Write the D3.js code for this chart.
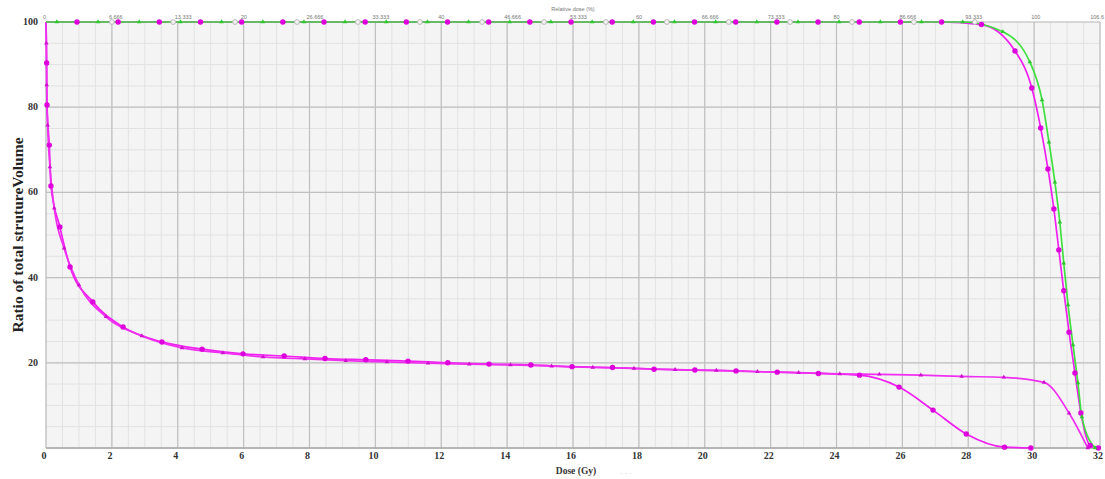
<!DOCTYPE html>
<head>
  <meta charset="utf-8">
  <script src="https://d3js.org/d3.v7.min.js"></script>
  <style>
    body { margin:0; background-color: white; }
    text { font-family: 'Liberation Serif', 'DejaVu Serif', serif; }
    .tick-label { font-size: 10px; font-weight: bold; fill: #333; }
    .top-label { font-family: 'Liberation Sans', sans-serif; font-size: 5.5px; fill: #777; }
  </style>
</head>
<body>
  <svg id="chart" width="1105" height="479"></svg>
  <script>
  // dose ticks (Gy) and relative dose labels (%)
  var doseTicks = [0, 2, 4, 6, 8, 10, 12, 14, 16, 18, 20, 22, 24, 26, 28, 30, 32];
  var relLabels = ["0", "6.666", "13.333", "20", "26.666", "33.333", "40", "46.666", "53.333",
                   "60", "66.666", "73.333", "80", "86.666", "93.333", "100", "106.6"];
  var volTicks = [20, 40, 60, 80, 100];

  // green curve
  var greenDose = [0, 0.33, 1.58, 2.83, 4.08, 5.33, 6.58, 7.83, 9.08, 10.33, 11.58, 12.83, 14.08, 15.33,
                   16.58, 17.83, 19.08, 20.33, 21.58, 22.83, 24.08, 25.33, 26.58, 27.83, 29.05, 29.87,
                   30.24, 30.45, 30.63, 30.78, 30.9, 31.03, 31.18, 31.33, 31.45, 31.85];
  var greenVol  = [100, 100, 100, 100, 100, 100, 100, 100, 100, 100, 100, 100, 100, 100,
                   100, 100, 100, 100, 100, 100, 100, 100, 100, 100, 97.7, 90.6,
                   81.7, 71.8, 62.4, 53, 43.4, 33.6, 24.2, 15.3, 7.3, 0];

  // magenta curve, big markers, high dose
  var ptvDose = [0, 0.94, 2.19, 3.44, 4.69, 5.94, 7.19, 8.44, 9.69, 10.94, 12.19, 13.44, 14.69, 15.94,
                 17.19, 18.44, 19.69, 20.94, 22.19, 23.44, 24.69, 25.94, 27.19, 28.4, 29.42, 29.93,
                 30.2, 30.42, 30.6, 30.75, 30.9, 31.06, 31.24, 31.42, 31.7, 31.95];
  var ptvVol  = [100, 100, 100, 100, 100, 100, 100, 100, 100, 100, 100, 100, 100, 100,
                 100, 100, 100, 100, 100, 100, 100, 100, 100, 99.4, 93.2, 84.5,
                 75.1, 65.5, 56.1, 46.5, 36.9, 27.2, 17.6, 8.2, 0.6, 0];

  // magenta curve, big markers, low dose
  var organADose = [0, 0.02, 0.03, 0.1, 0.15, 0.42, 0.73, 1.42, 2.34, 3.52, 4.74, 5.98, 7.23, 8.47,
                    9.71, 10.99, 12.2, 13.45, 14.72, 15.97, 17.2, 18.46, 19.7, 20.95, 22.2, 23.45,
                    24.7, 25.9, 26.93, 27.94, 29.1, 29.9];
  var organAVol  = [100, 90.4, 80.5, 71.1, 61.5, 51.9, 42.5, 34.3, 28.4, 24.9, 23.2, 22.1, 21.6, 21,
                    20.7, 20.4, 20, 19.7, 19.5, 19.1, 18.9, 18.5, 18.3, 18.1, 17.8, 17.5,
                    17.1, 14.3, 8.9, 3.3, 0.2, 0];

  // magenta curve, small markers
  var organBDose = [0, 0.01, 0.02, 0.05, 0.12, 0.25, 0.55, 1.0, 1.82, 2.91, 4.13, 5.37, 6.59, 7.86,
                    9.1, 10.35, 11.6, 12.85, 14.1, 15.35, 16.6, 17.85, 19.1, 20.35, 21.6, 22.85,
                    24.1, 25.3, 26.56, 27.8, 29.08, 30.3, 31.06, 31.63];
  var organBVol  = [100, 95, 85.2, 75.8, 66, 56.3, 46.9, 38.3, 30.8, 26.3, 23.5, 22.3, 21.4, 20.9,
                    20.5, 20.2, 19.9, 19.7, 19.5, 19.2, 18.9, 18.7, 18.4, 18.2, 17.9, 17.7,
                    17.4, 17.3, 17.1, 16.8, 16.6, 15.4, 8.2, 0];

  // gray curve, hidden under the others
  var grayDose = [0, 2.0, 3.86, 5.74, 7.62, 9.47, 11.35, 13.24, 15.12, 17.0, 18.85, 20.73, 22.59, 24.47, 26.35, 28.2];
  var grayVol  = [100, 100, 100, 100, 100, 100, 100, 100, 100, 100, 100, 100, 100, 100, 100, 100];

  var svg = d3.select("#chart");
  var x = d3.scaleLinear().domain([0, 32]).range([46, 1100]);
  var y = d3.scaleLinear().domain([0, 100]).range([448, 22]);

  function pts(ds, vs) { return ds.map(function(d, i) { return [d, vs[i]]; }); }

  // plot background
  svg.append("rect")
      .attr("x", x(0)).attr("y", y(100))
      .attr("width", x(32) - x(0)).attr("height", y(0) - y(100))
      .style("fill", "#f4f4f4");

  // minor grid
  var g = svg.append("g");
  g.selectAll(".vminor").data(d3.range(0, 32.01, 0.5)).enter().append("line")
      .attr("x1", function(d) { return x(d); }).attr("x2", function(d) { return x(d); })
      .attr("y1", y(0)).attr("y2", y(100))
      .style("stroke", "#e2e2e2").style("stroke-width", 1);
  g.selectAll(".hminor").data(d3.range(0, 100.1, 5)).enter().append("line")
      .attr("x1", x(0)).attr("x2", x(32))
      .attr("y1", function(d) { return y(d); }).attr("y2", function(d) { return y(d); })
      .style("stroke", "#e2e2e2").style("stroke-width", 1);
  // major grid
  g.selectAll(".vmajor").data(doseTicks).enter().append("line")
      .attr("x1", function(d) { return x(d); }).attr("x2", function(d) { return x(d); })
      .attr("y1", y(0)).attr("y2", y(100))
      .style("stroke", "#c0c0c0").style("stroke-width", 1.2);
  g.selectAll(".hmajor").data([0].concat(volTicks)).enter().append("line")
      .attr("x1", x(0)).attr("x2", x(32))
      .attr("y1", function(d) { return y(d); }).attr("y2", function(d) { return y(d); })
      .style("stroke", "#c0c0c0").style("stroke-width", 1.2);
  svg.append("line")
      .attr("x1", x(0)).attr("x2", x(32)).attr("y1", y(0)).attr("y2", y(0))
      .style("stroke", "#aaa").style("stroke-width", 1.5);

  // bottom axis labels
  svg.selectAll(".xlab").data(doseTicks).enter().append("text")
      .attr("class", "tick-label")
      .attr("x", function(d) { return x(d) - 2; })
      .attr("y", 459)
      .style("text-anchor", "middle")
      .text(function(d) { return d; });

  // left axis labels
  svg.selectAll(".ylab").data(volTicks).enter().append("text")
      .attr("class", "tick-label")
      .attr("x", 38)
      .attr("y", function(d) { return y(d) + 3; })
      .style("text-anchor", "end")
      .text(function(d) { return d; });

  // top axis labels (relative dose)
  svg.selectAll(".toplab").data(doseTicks).enter().append("text")
      .attr("class", "top-label")
      .attr("x", function(d, i) { return i == doseTicks.length - 1 ? 1104 : x(d) - 3; })
      .attr("y", 19)
      .style("text-anchor", function(d, i) { return i == doseTicks.length - 1 ? "end" : "start"; })
      .text(function(d, i) { return relLabels[i]; });
  svg.append("text")
      .attr("class", "top-label")
      .attr("x", 573).attr("y", 11)
      .style("text-anchor", "middle")
      .text("Relative dose (%)");

  // axis titles
  svg.append("text")
      .attr("transform", "translate(23,235) rotate(-90)")
      .style("text-anchor", "middle")
      .style("font-size", "15.5px")
      .style("font-weight", "bold")
      .style("fill", "#222")
      .text("Ratio of total strutureVolume");
  svg.append("text")
      .attr("x", 576).attr("y", 474)
      .style("text-anchor", "middle")
      .style("font-size", "9.5px")
      .style("font-weight", "bold")
      .style("fill", "#333")
      .text("Dose (Gy)");
  svg.append("text")
      .attr("x", 626).attr("y", 476)
      .style("text-anchor", "middle")
      .style("font-size", "8px")
      .style("fill", "#bbb")
      .text("· · ·");

  var line = d3.line()
      .x(function(d) { return x(d[0]); })
      .y(function(d) { return y(d[1]); })
      .curve(d3.curveMonotoneX);

  var series = [
    {data: pts(grayDose, grayVol), color: "#aaaaaa", marker: "hollow"},
    {data: pts(ptvDose, ptvVol), color: "#f020f0", marker: "big"},
    {data: pts(organADose, organAVol), color: "#f020f0", marker: "big"},
    {data: pts(organBDose, organBVol), color: "#f030f0", marker: "small"},
    {data: pts(greenDose, greenVol), color: "#3fe03f", marker: "small"}
  ];

  svg.selectAll(".curve").data(series).enter().append("path")
      .attr("class", "curve")
      .attr("d", function(s) { return line(s.data); })
      .style("fill", "none")
      .style("stroke", function(s) { return s.color; })
      .style("stroke-width", 1.7);

  var tri = d3.symbol().type(d3.symbolTriangle).size(9);

  series.forEach(function(s) {
    var mg = svg.append("g");
    var m = s.data.slice(1);
    if (s.marker == "big") {
      mg.selectAll("circle").data(m).enter().append("circle")
          .attr("cx", function(d) { return x(d[0]); })
          .attr("cy", function(d) { return y(d[1]); })
          .attr("r", 2.7)
          .style("fill", "#dd00dd");
    } else if (s.marker == "hollow") {
      mg.selectAll("circle").data(m).enter().append("circle")
          .attr("cx", function(d) { return x(d[0]); })
          .attr("cy", function(d) { return y(d[1]); })
          .attr("r", 2.4)
          .style("fill", "#f4f4f4")
          .style("stroke", "#b8b8b8");
    } else {
      mg.selectAll("path").data(m).enter().append("path")
          .attr("d", tri)
          .attr("transform", function(d) { return "translate(" + x(d[0]) + "," + y(d[1]) + ")"; })
          .style("fill", s.color == "#3fe03f" ? "#2cc82c" : "#d010d0");
    }
  });
  </script>
</body>
